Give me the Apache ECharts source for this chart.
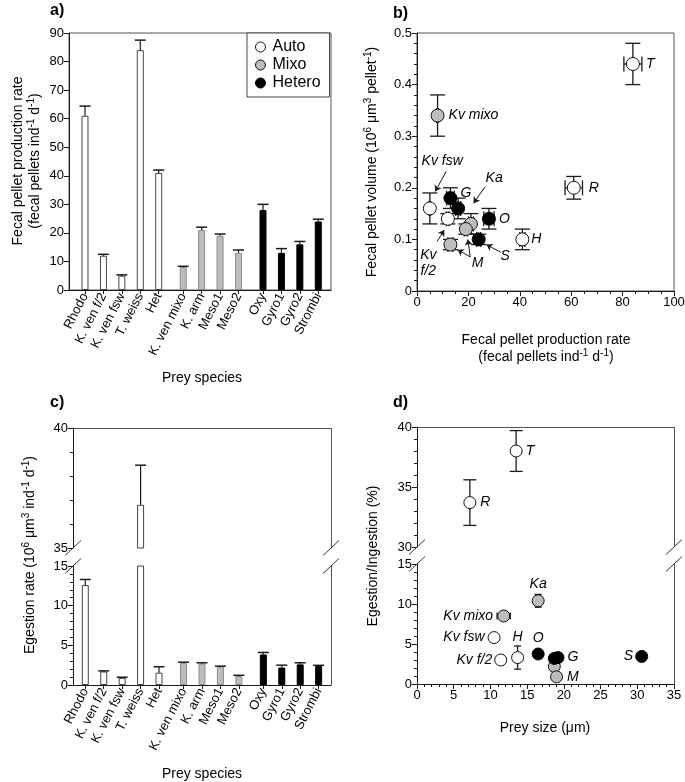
<!DOCTYPE html>
<html>
<head>
<meta charset="utf-8">
<script src="https://cdn.jsdelivr.net/npm/echarts@6/dist/echarts.min.js"></script>
<style>
  html, body { margin: 0; padding: 0; background: #fff; }
  #chart { width: 685px; height: 782px; }
</style>
</head>
<body>
<div id="chart"></div>
<script>
const FONT = '"Liberation Sans", Arial, Helvetica, sans-serif';
const INK = '#1a1a1a';

// ---- data ----
const species = ['Rhodo', 'K. ven f/2', 'K. ven fsw', 'T. weiss', 'Het', 'K. ven mixo', 'K. arm',
  'Meso1', 'Meso2', 'Oxy', 'Gyro1', 'Gyro2', 'Strombi'];
const trophic = ['Auto', 'Auto', 'Auto', 'Auto', 'Auto', 'Mixo', 'Mixo', 'Mixo', 'Mixo',
  'Hetero', 'Hetero', 'Hetero', 'Hetero'];
const groups = ['Auto', 'Mixo', 'Hetero'];

// a) fecal pellet production rate (pellets ind-1 d-1)
const fppRate = [61, 12, 5, 84, 41, 8, 21, 19, 13, 28, 13, 16, 24];
const fppErr = [3.4, 0.5, 0.3, 3.5, 1, 0.3, 1, 0.6, 1, 2, 1.5, 1, 0.8];

// b) fecal pellet volume (10^6 um3 pellet-1)
const pelletVol = [0.20, 0.14, 0.16, 0.44, 0.10, 0.34, 0.13, 0.12, 0.09, 0.14, 0.18, 0.16, 0.10];
const pelletVolErr = [0.022, 0.01, 0.03, 0.04, 0.02, 0.04, 0.02, 0.01, 0.01, 0.02, 0.02, 0.02, 0.01];

// c) egestion rate (10^6 um3 ind-1 d-1)
const egestRate = [12.6, 1.7, 0.9, 36.8, 1.55, 2.8, 2.7, 2.3, 1.1, 3.85, 2.2, 2.6, 2.4];
const egestErr = [0.7, 0.08, 0.08, 1.65, 0.75, 0.08, 0.1, 0.08, 0.12, 0.25, 0.3, 0.2, 0.08];

// d) egestion / ingestion (%) vs prey size (um)
const preySize = [7.2, 11.4, 10.5, 13.5, 13.7, 11.8, 16.5, 18.7, 19.0, 16.5, 18.7, 19.2, 30.6];
const preySizeErr = [0, 0, 0, 0, 0, 0.9, 0, 0, 0, 0, 0, 0, 0];
const egestIngest = [33.7, 3.0, 5.8, 38.0, 3.3, 8.5, 10.4, 2.2, 0.9, 3.75, 3.2, 3.3, 3.45];
const egestIngestErr = [1.9, 0, 0, 1.7, 1.45, 0, 0.8, 0, 0, 0, 0, 0, 0];

// point tags
const bTags = ['R', '', '', 'T', 'H', 'Kv mixo', '', '', '', 'O', 'G', '', ''];
const dTags = ['R', 'Kv f/2', 'Kv fsw', 'T', 'H', 'Kv mixo', 'Ka', '', 'M', 'O', '', 'G', 'S'];

// b) annotations pointing at crowded points
const bNotes = [
  { text: 'Kv fsw', at: [9.8, 0.251], arrows: [[[11.4, 0.232], [7.1, 0.193]]] },
  { text: 'Ka', at: [30, 0.219], arrows: [[[26.5, 0.202], [22, 0.17]]] },
  { text: 'S', at: [34.3, 0.067], arrows: [[[32.6, 0.075], [27, 0.09]]] },
  { text: 'M', at: [23.6, 0.054], arrows: [[[20.7, 0.066], [15.8, 0.08]], [[20.7, 0.066], [19.8, 0.1]]] },
  { text: 'Kv\nf/2', at: [4.4, 0.054], arrows: [[[7.8, 0.096], [10.6, 0.118]]] },
];

// ---- styles / layout ----
const barStyle = {
  Auto: { color: '#ffffff', borderColor: '#444', borderWidth: 1 },
  Mixo: { color: '#bdbdbd', borderColor: '#8c8c8c', borderWidth: 1 },
  Hetero: { color: '#000000', borderColor: '#000', borderWidth: 1 },
};
const dotStyle = {
  Auto: { color: '#ffffff', borderColor: '#111', borderWidth: 1, opacity: 1 },
  Mixo: { color: '#bdbdbd', borderColor: '#111', borderWidth: 1, opacity: 1 },
  Hetero: { color: '#000000', borderColor: '#000', borderWidth: 1, opacity: 1 },
};
const bTagPos = {
  0: { position: 'right', distance: 8 }, 3: { position: 'right', distance: 6 },
  4: { position: 'right', distance: 2 }, 5: { position: 'right', distance: 4 },
  9: { position: 'right', distance: 3 }, 10: { position: 'right', distance: 3, offset: [0, -5] },
};
const dTagPos = {
  0: { position: 'right', distance: 4 }, 1: { position: 'left', distance: 2 },
  2: { position: 'left', distance: 3 }, 3: { position: 'right', distance: 3 },
  4: { position: 'top', distance: 7 }, 5: { position: 'left', distance: 4 },
  6: { position: 'top', distance: 3 }, 8: { position: 'right', distance: 4 },
  9: { position: 'top', distance: 2 }, 11: { position: 'right', distance: 3 },
  12: { position: 'left', distance: 2 },
};

const G = {
  a: { left: 69, top: 33, width: 262, height: 257 },
  b: { left: 417, top: 33, width: 257, height: 258 },
  cUp: { left: 73, top: 428, width: 258, height: 120 },
  cLo: { left: 73, top: 566, width: 258, height: 119 },
  dUp: { left: 417, top: 427, width: 257, height: 120 },
  dLo: { left: 417, top: 564, width: 257, height: 120 },
};

// bars sit at their index, with a small gap between trophic groups
const xPos = species.map((s, i) => i + groups.indexOf(trophic[i]) * 0.33);

function grid(g, frame) {
  return Object.assign({ outerBoundsMode: 'none', containLabel: false, show: !!frame,
    borderColor: '#555', borderWidth: 1 }, g);
}

function valueAxis(gi, min, max, interval, minor) {
  return {
    type: 'value', gridIndex: gi, min, max, interval,
    axisLine: { show: true, onZero: false, lineStyle: { color: INK, width: 1 } },
    axisTick: { show: true, length: 5, lineStyle: { color: INK } },
    minorTick: { show: !!minor, splitNumber: minor || 5, length: 3, lineStyle: { color: INK } },
    axisLabel: { color: '#000', fontSize: 13, fontFamily: FONT, margin: 5 },
    splitLine: { show: false },
    minorSplitLine: { show: false },
  };
}

function hiddenAxis(gi, min, max) {
  return { type: 'value', gridIndex: gi, min, max, show: false, splitLine: { show: false } };
}

function speciesAxis(gi, min, max) {
  return {
    type: 'value', gridIndex: gi, min, max,
    axisLine: { show: true, onZero: false, lineStyle: { color: INK, width: 1 } },
    axisTick: { show: true, length: 4, customValues: xPos, lineStyle: { color: INK } },
    axisLabel: {
      customValues: xPos, rotate: 63, fontSize: 13, fontFamily: FONT, color: '#000', margin: 4,
      formatter: v => species[xPos.findIndex(p => Math.abs(p - v) < 1e-6)] || ''
    },
    splitLine: { show: false },
  };
}

function barSeries(xi, yi, vals, keep) {
  return groups.map(g => ({
    type: 'bar', name: g, xAxisIndex: xi, yAxisIndex: yi, barWidth: 7, barGap: '-100%',
    itemStyle: barStyle[g], clip: true, z: 2,
    data: species.map((s, i) => (trophic[i] === g && keep(vals[i]) ? [xPos[i], vals[i]] : null))
      .filter(Boolean)
  }));
}

function barErrSeries(xi, yi, vals, errs, keep) {
  return {
    type: 'custom', xAxisIndex: xi, yAxisIndex: yi, z: 3, silent: true,
    encode: { x: 0, y: 1 },
    data: species.map((s, i) => [xPos[i], vals[i], errs[i]]).filter(d => keep(d[1], d[2])),
    renderItem: (params, api) => {
      const p0 = api.coord([api.value(0), api.value(1)]);
      const p1 = api.coord([api.value(0), api.value(1) + api.value(2)]);
      return {
        type: 'group', children: [
          { type: 'line', shape: { x1: p0[0], y1: p0[1], x2: p1[0], y2: p1[1] },
            style: { stroke: INK, lineWidth: 1.2 } },
          { type: 'line', shape: { x1: p1[0] - 5.5, y1: p1[1], x2: p1[0] + 5.5, y2: p1[1] },
            style: { stroke: INK, lineWidth: 1.5 } },
        ]
      };
    }
  };
}

function pointSeries(xi, yi, idx, xs, ys, size, tags, tagPos) {
  return {
    type: 'scatter', xAxisIndex: xi, yAxisIndex: yi, symbol: 'circle', symbolSize: size, z: 4,
    itemStyle: { opacity: 1 },
    label: { fontStyle: 'italic', fontSize: 14, fontFamily: FONT, color: '#000' },
    data: idx.map(i => ({
      value: [xs[i], ys[i]], name: species[i], itemStyle: dotStyle[trophic[i]],
      label: tags[i] ? Object.assign({ show: true, formatter: tags[i] }, tagPos[i] || {}) : { show: false }
    }))
  };
}

function pointErrSeries(xi, yi, idx, xs, ys, exs, eys, cap) {
  return {
    type: 'custom', xAxisIndex: xi, yAxisIndex: yi, z: 3, silent: true,
    encode: { x: 0, y: 1 },
    data: idx.map(i => [xs[i], ys[i], exs[i], eys[i]]),
    renderItem: (params, api) => {
      const x = api.value(0), y = api.value(1), ex = api.value(2), ey = api.value(3);
      const style = { stroke: INK, lineWidth: 1.3 };
      const kids = [];
      if (ey > 0) {
        const t = api.coord([x, y + ey]), b = api.coord([x, y - ey]);
        kids.push({ type: 'line', shape: { x1: t[0], y1: t[1], x2: b[0], y2: b[1] }, style });
        kids.push({ type: 'line', shape: { x1: t[0] - cap, y1: t[1], x2: t[0] + cap, y2: t[1] }, style });
        kids.push({ type: 'line', shape: { x1: b[0] - cap, y1: b[1], x2: b[0] + cap, y2: b[1] }, style });
      }
      if (ex > 0) {
        const l = api.coord([x - ex, y]), r = api.coord([x + ex, y]);
        kids.push({ type: 'line', shape: { x1: l[0], y1: l[1], x2: r[0], y2: r[1] }, style });
        kids.push({ type: 'line', shape: { x1: l[0], y1: l[1] - cap, x2: l[0], y2: l[1] + cap }, style });
        kids.push({ type: 'line', shape: { x1: r[0], y1: r[1] - cap, x2: r[0], y2: r[1] + cap }, style });
      }
      return { type: 'group', children: kids };
    }
  };
}

// ---- text helpers ----
const rich = {
  n: { fontSize: 14, fontFamily: FONT, fill: '#000', lineHeight: 18 },
  s: { fontSize: 10, fontFamily: FONT, fill: '#000', lineHeight: 11, verticalAlign: 'top' },
};
function title(x, y, text, vertical) {
  return {
    type: 'text', x, y, rotation: vertical ? Math.PI / 2 : 0, silent: true,
    style: { text, rich, fontSize: 14, fontFamily: FONT, fill: '#000',
      align: 'center', verticalAlign: 'middle', textAlign: 'center', textVerticalAlign: 'middle' }
  };
}
function letter(x, y, text) {
  return {
    type: 'text', x, y, silent: true,
    style: { text, fontSize: 16, fontWeight: 'bold', fontFamily: FONT, fill: '#000',
      align: 'left', verticalAlign: 'middle', textAlign: 'left', textVerticalAlign: 'middle' }
  };
}
function seg(x1, y1, x2, y2, color) {
  return { type: 'line', silent: true, shape: { x1, y1, x2, y2 },
    style: { stroke: color || '#555', lineWidth: 1 } };
}
// frame pieces and break marks for a split panel
function brokenFrame(up, lo) {
  const l = up.left, r = up.left + up.width, upB = up.top + up.height, loB = lo.top + lo.height;
  const out = [
    seg(l, up.top + 0.5, r, up.top + 0.5),
    seg(r + 0.5, up.top, r + 0.5, upB),
    seg(r + 0.5, lo.top, r + 0.5, loB),
  ];
  [l, r].forEach(x => [upB, lo.top].forEach(y => out.push(seg(x - 8, y + 7.5, x + 8, y - 7.5, '#333'))));
  return out;
}

// ---- assemble ----
const series = [];
// a)
series.push(...barSeries(0, 0, fppRate, () => true));
series.push(barErrSeries(0, 0, fppRate, fppErr, () => true));
// b)
const all = species.map((s, i) => i);
series.push(pointErrSeries(1, 1, all, fppRate, pelletVol, fppErr, pelletVolErr, 7.5));
series.push(pointSeries(1, 1, all, fppRate, pelletVol, 13, bTags, bTagPos));
series.push({
  type: 'scatter', xAxisIndex: 1, yAxisIndex: 1, symbolSize: 1, z: 5, silent: true,
  itemStyle: { color: 'rgba(0,0,0,0)', opacity: 1 },
  label: { show: true, position: 'inside', formatter: '{b}', fontStyle: 'italic', fontSize: 14,
    fontFamily: FONT, color: '#000', opacity: 1, lineHeight: 16 },
  data: bNotes.map(n => ({ value: n.at, name: n.text })),
  markLine: {
    silent: true, animation: false, symbol: ['none', 'arrow'], symbolSize: 6,
    lineStyle: { color: INK, width: 1, type: 'solid', opacity: 1 }, label: { show: false },
    emphasis: { disabled: true },
    data: bNotes.flatMap(n => n.arrows.map(a => [{ coord: a[0] }, { coord: a[1] }]))
  }
});
// c) split axis: 35-40 above, 0-15 below
series.push(...barSeries(2, 2, egestRate, v => v > 35));
series.push(barErrSeries(2, 2, egestRate, egestErr, v => v > 35));
series.push(...barSeries(3, 3, egestRate, () => true).map(s => Object.assign(s, { name: s.name + ' ' })));
series.push(barErrSeries(3, 3, egestRate, egestErr, (v, e) => v + e <= 15));
// d) split axis: 30-40 above, 0-15 below
const dHigh = all.filter(i => egestIngest[i] > 15);
const dLow = all.filter(i => egestIngest[i] <= 15);
series.push(pointErrSeries(4, 4, dHigh, preySize, egestIngest, preySizeErr, egestIngestErr, 6.5));
series.push(pointSeries(4, 4, dHigh, preySize, egestIngest, 12, dTags, dTagPos));
series.push(pointErrSeries(5, 5, dLow, preySize, egestIngest, preySizeErr, egestIngestErr, 3.5));
series.push(pointSeries(5, 5, dLow, preySize, egestIngest, 12, dTags, dTagPos));

const option = {
  animation: false,
  backgroundColor: '#fff',
  textStyle: { fontFamily: FONT },
  grid: [grid(G.a, true), grid(G.b, true), grid(G.cUp), grid(G.cLo), grid(G.dUp), grid(G.dLo)],
  xAxis: [
    speciesAxis(0, -0.868, 13.35),
    valueAxis(1, 0, 100, 20, 4),
    hiddenAxis(2, -0.667, 13.33),
    speciesAxis(3, -0.667, 13.33),
    hiddenAxis(4, 0, 35),
    valueAxis(5, 0, 35, 5, 5),
  ],
  yAxis: [
    valueAxis(0, 0, 90, 10, 0),
    valueAxis(1, 0, 0.5, 0.1, 5),
    valueAxis(2, 35, 40, 5, 5),
    valueAxis(3, 0, 15, 5, 5),
    valueAxis(4, 30, 40, 5, 5),
    valueAxis(5, 0, 15, 5, 5),
  ],
  legend: {
    orient: 'vertical', left: 247, top: 33, padding: [6, 9, 6, 8], itemGap: 2,
    itemWidth: 10, itemHeight: 10, backgroundColor: '#fff', borderColor: '#444', borderWidth: 1,
    borderRadius: 0, selectedMode: false,
    textStyle: { fontSize: 16, fontFamily: FONT, color: '#000', padding: [0, 0, 0, 2] },
    data: groups.map(g => ({ name: g, icon: 'circle', itemStyle: dotStyle[g] }))
  },
  graphic: [
    letter(50, 11, 'a)'), letter(393, 14, 'b)'), letter(50, 403, 'c)'), letter(393, 403, 'd)'),
    title(18, 161, '{n|Fecal pellet production rate}', true),
    title(35, 161, '{n|(fecal pellets ind}{s|-1}{n| d}{s|-1}{n|)}', true),
    title(202, 378, '{n|Prey species}'),
    title(372, 162, '{n|Fecal pellet volume (10}{s|6}{n| μm}{s|3}{n| pellet}{s|-1}{n|)}', true),
    title(546, 340, '{n|Fecal pellet production rate}'),
    title(546, 357, '{n|(fecal pellets ind}{s|-1}{n| d}{s|-1}{n|)}'),
    title(30, 555, '{n|Egestion rate (10}{s|6}{n| μm}{s|3}{n| ind}{s|-1}{n| d}{s|-1}{n|)}', true),
    title(202, 774, '{n|Prey species}'),
    title(373, 556, '{n|Egestion/Ingestion (%)}', true),
    title(545, 728, '{n|Prey size (μm)}'),
    ...brokenFrame(G.cUp, G.cLo),
    ...brokenFrame(G.dUp, G.dLo),
  ],
  series
};

const chart = echarts.init(document.getElementById('chart'), null, { renderer: 'canvas' });
chart.setOption(option);
</script>
</body>
</html>
